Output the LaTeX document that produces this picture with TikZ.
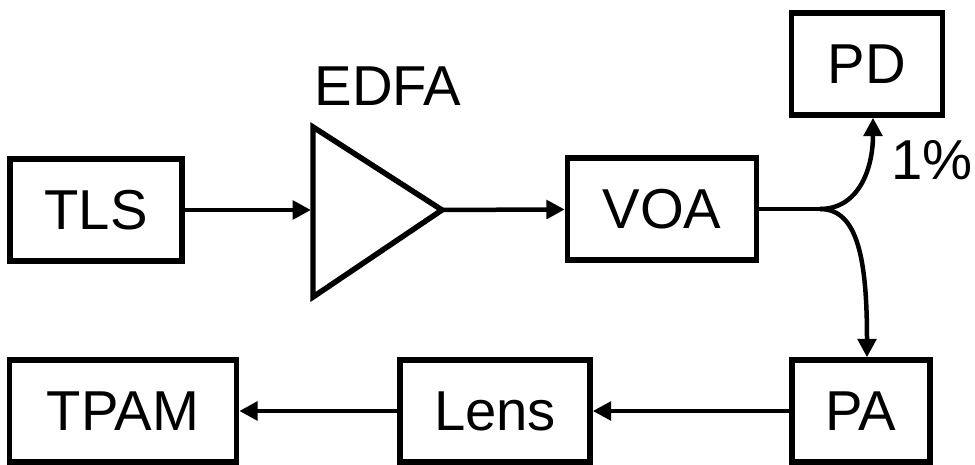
\documentclass[tikz,border=0pt]{standalone}
\usepackage{fontspec}
\setmainfont{Liberation Sans}
\usetikzlibrary{arrows.meta}

\tikzset{
  blk/.style={draw, line width=3.9pt, minimum height=2.55cm, inner sep=0pt, font=\fontsize{40}{46}\selectfont},
  sig/.style={line width=3.2pt, -{Triangle[length=13pt,width=13pt]}},
  lbl/.style={font=\fontsize{40}{46}\selectfont}
}

\begin{document}
\begin{tikzpicture}[x=0.025cm, y=-0.025cm]
    \useasboundingbox (0,0) rectangle (975,465);

    % top row
    \node [blk, minimum width=4.3cm] (tls) at (96,210) {TLS};
    \draw [line width=3.9pt, line join=miter] (313,127) -- (313,297) -- (442,210) -- cycle;
    \coordinate (edfain) at (311,210);
    \coordinate (edfaout) at (442,210);
    \node [lbl] (edfa) at (388,86) {EDFA};
    \node [blk, minimum width=4.725cm] (voa) at (662,209) {VOA};

    % splitter
    \coordinate (split) at (820,209);
    \node [blk, minimum width=3.775cm] (pd) at (867,64) {PD};
    \node [lbl] (pct) at (932,160) {1\%};

    % bottom row
    \node [blk, minimum width=3.45cm] (pa) at (861,411) {PA};
    \node [blk, minimum width=4.75cm] (lens) at (495,411) {Lens};
    \node [blk, minimum width=5.675cm] (tpam) at (123,411) {TPAM};

    \draw [sig] (tls) -- (edfain);
    \draw [sig] (edfaout) -- (voa);
    \draw [line width=3.2pt] (voa) -- (split);
    \draw [sig] (split) .. controls (858,209) and (873,170) .. (pd.south -| 873,0);
    \draw [sig] (split) .. controls (858,209) and (867,260) .. (pa.north -| 867,0);
    \draw [sig] (pa) -- (lens);
    \draw [sig] (lens) -- (tpam);
\end{tikzpicture}
\end{document}
